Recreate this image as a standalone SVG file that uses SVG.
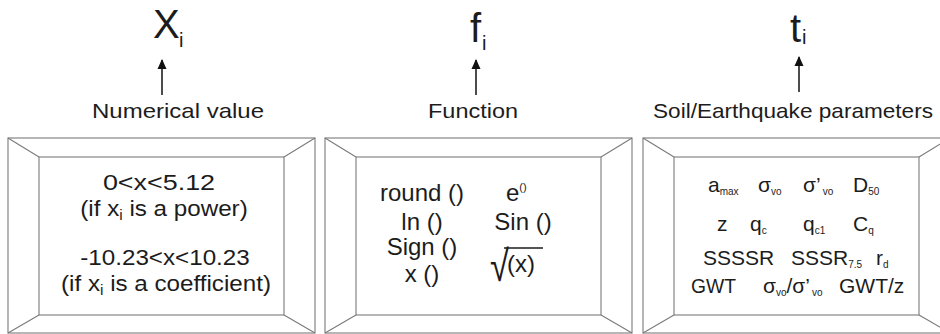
<svg xmlns="http://www.w3.org/2000/svg" xmlns:xlink="http://www.w3.org/1999/xlink" width="940" height="334" viewBox="0 0 940 334">
<style>
text{font-family:"Liberation Sans",Arial,Helvetica,sans-serif;fill:#1c1c1c}
.big{font-size:40px}
.bsub{font-size:20px}
.lbl{font-size:21px;text-anchor:middle}
.b1{font-size:22px;text-anchor:middle}
.b2{font-size:24px}
.b3{font-size:21px}
.s{font-size:10px}
.s1{font-size:14px}
.frame{fill:#fff;stroke:#7a7a7a;stroke-width:1.1}
.conn{stroke:#111;stroke-width:1.5;fill:none}
</style>
<defs>
<marker id="ah" viewBox="0 0 10 12" refX="9" refY="6" markerWidth="10" markerHeight="12" markerUnits="userSpaceOnUse" orient="auto">
<path d="M0,1.5 L10,6 L0,10.5 Z" fill="#111"/>
</marker>
<g id="bevel">
<rect class="frame" x="0" y="0" width="307" height="195"/>
<rect class="frame" x="31" y="19" width="245" height="158"/>
<path class="frame" d="M0,0 L31,19 M307,0 L276,19 M0,195 L31,177 M307,195 L276,177"/>
</g>
</defs>

<g id="connectors">
<line class="conn" x1="162" y1="95" x2="162" y2="60" marker-end="url(#ah)"/>
<line class="conn" x1="476" y1="95" x2="476" y2="60" marker-end="url(#ah)"/>
<line class="conn" x1="799" y1="92" x2="799" y2="57" marker-end="url(#ah)"/>
</g>

<g id="xi">
<text class="big" x="153" y="38">X</text><text class="bsub" x="179" y="47">i</text>
</g>
<g id="fi">
<text class="big" x="470" y="42">f</text><text class="bsub" x="482" y="50">i</text>
</g>
<g id="ti">
<text class="big" x="790" y="42">t</text><text class="bsub" x="802" y="44">i</text>
</g>

<g id="label-numerical">
<text class="lbl" x="178" y="118" textLength="172" lengthAdjust="spacingAndGlyphs">Numerical value</text>
</g>
<g id="label-function">
<text class="lbl" x="473" y="118" textLength="90" lengthAdjust="spacingAndGlyphs">Function</text>
</g>
<g id="label-parameters">
<text class="lbl" x="793" y="118" textLength="280" lengthAdjust="spacingAndGlyphs">Soil/Earthquake parameters</text>
</g>

<g id="box-numerical">
<use xlink:href="#bevel" href="#bevel" x="8" y="138"/>
<text class="b1" transform="translate(159,190) scale(1.1,1)" textLength="102" lengthAdjust="spacingAndGlyphs">0&lt;x&lt;5.12</text>
<text class="b1" transform="translate(164,216) scale(1.1,1)">(if x<tspan class="s1" dy="4">i</tspan><tspan dy="-4"> is a power)</tspan></text>
<text class="b1" transform="translate(165,265) scale(1.1,1)">-10.23&lt;x&lt;10.23</text>
<text class="b1" transform="translate(166,291) scale(1.1,1)">(if x<tspan class="s1" dy="4">i</tspan><tspan dy="-4"> is a coefficient)</tspan></text>
</g>

<g id="box-function">
<use xlink:href="#bevel" href="#bevel" x="325" y="138"/>
<g class="b2" text-anchor="middle">
<text x="422" y="201">round ()</text>
<text x="422" y="230">ln ()</text>
<text x="422" y="255">Sign ()</text>
<text x="422" y="282">x ()</text>
<text x="523" y="230">Sin ()</text>
</g>
<text class="b2" x="506" y="201">e<tspan font-size="11" dy="-10">()</tspan></text>
<text font-size="30" transform="translate(490,281) scale(1.15,1.45)">√</text>
<line x1="504" y1="248" x2="543" y2="248" stroke="#1c1c1c" stroke-width="1.6"/>
<text class="b2" x="507" y="272">(x)</text>
</g>

<g id="box-parameters">
<use xlink:href="#bevel" href="#bevel" x="643" y="138"/>
<g class="b3">
<text x="708" y="192">a<tspan class="s" dy="3">max</tspan></text>
<text x="758" y="192">σ<tspan class="s" dy="3">vo</tspan></text>
<text x="803" y="192">σ’<tspan class="s" dy="3" dx="2">vo</tspan></text>
<text x="853" y="192">D<tspan class="s" dy="3">50</tspan></text>
<text x="717" y="231">z</text>
<text x="750" y="231">q<tspan class="s" dy="3">c</tspan></text>
<text x="803" y="231">q<tspan class="s" dy="3">c1</tspan></text>
<text x="853" y="231">C<tspan class="s" dy="3">q</tspan></text>
<text x="703" y="265">SSSSR</text>
<text x="791" y="265">SSSR<tspan class="s" dy="3">7.5</tspan></text>
<text x="876" y="265">r<tspan class="s" dy="3">d</tspan></text>
<text x="691" y="293" textLength="45" lengthAdjust="spacingAndGlyphs">GWT</text>
<text x="763" y="293">σ<tspan class="s" dy="3">vo</tspan><tspan dy="-3">/σ’</tspan><tspan class="s" dy="3" dx="2">vo</tspan></text>
<text x="839" y="293">GWT/z</text>
</g>
</g>
</svg>
